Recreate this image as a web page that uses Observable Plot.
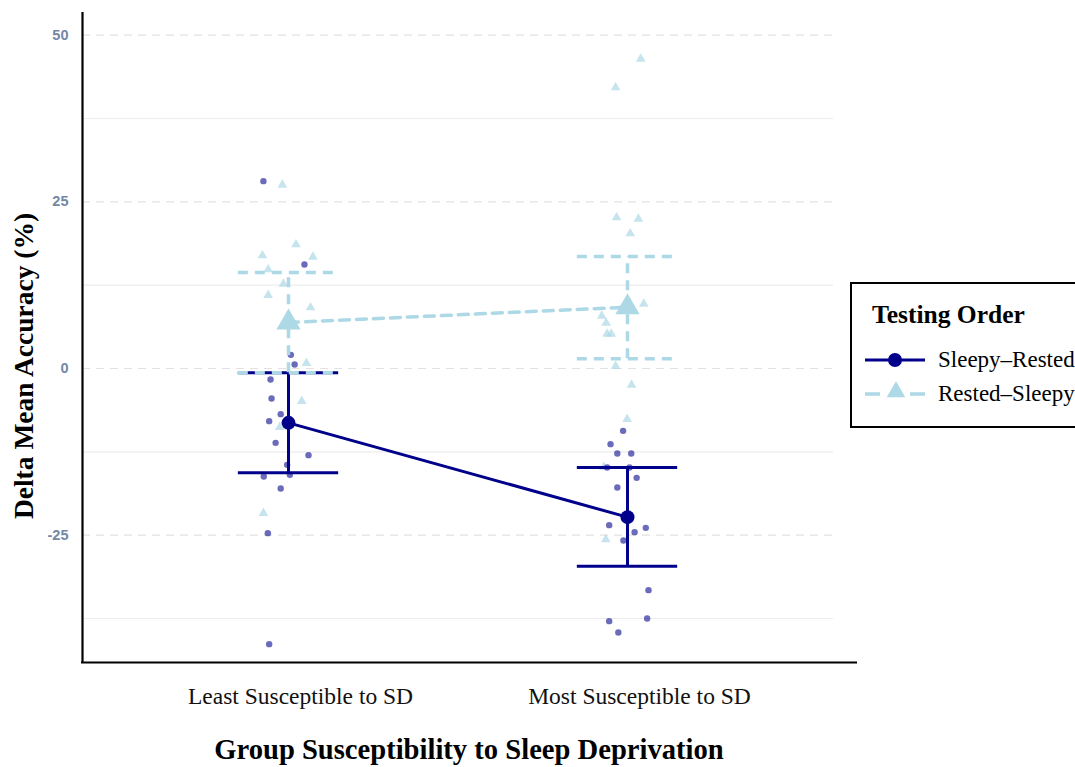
<!DOCTYPE html>
<html>
<head>
<meta charset="utf-8">
<script src="https://cdn.jsdelivr.net/npm/d3@7"></script>
<script src="https://cdn.jsdelivr.net/npm/@observablehq/plot@0.6"></script>
<style>
  html, body { margin: 0; padding: 0; background: #fff; }
  #chart { position: relative; width: 1075px; height: 767px; overflow: hidden; }
</style>
</head>
<body>
<div id="chart"></div>
<script>
// ---------- data ----------
const groups = ["Least Susceptible to SD", "Most Susceptible to SD"];
const orders = ["Sleepy–Rested", "Rested–Sleepy"];
const yTicks = [-25, 0, 25, 50];
const yMinorTicks = [-37.5, -12.5, 12.5, 37.5];

// group means and error-bar ends
const meanSR = [-8.15, -22.3];
const lowSR = [-15.65, -29.65];
const highSR = [-0.65, -14.85];
const meanRS = [6.9, 9.2];
const lowRS = [-0.65, 1.45];
const highRS = [14.4, 16.8];

// individual participants (value, horizontal jitter in group units)
const srLeast = [28.1, 15.6, 2.05, 0.6, -1.65, -4.5, -6.85, -7.9, -11.15, -13.0, -14.45, -16.2, -15.95, -18.0, -24.7, -41.35];
const srLeastJit = [-0.074, 0.047, 0.007, 0.018, -0.053, -0.050, -0.023, -0.057, -0.038, 0.059, -0.004, -0.073, 0.004, -0.023, -0.061, -0.057];
const srMost = [-9.35, -11.35, -12.75, -12.75, -14.85, -14.85, -16.4, -17.85, -23.5, -23.9, -24.55, -25.8, -33.25, -37.9, -37.5, -39.6];
const srMostJit = [-0.013, -0.050, -0.030, 0.011, -0.060, 0.006, 0.027, -0.030, -0.054, 0.054, 0.021, -0.012, 0.062, -0.054, 0.058, -0.027];
const rsLeast = [27.55, 18.6, 16.95, 16.75, 14.85, 12.7, 11.0, 9.15, 0.8, -4.9, -8.8, -21.7];
const rsLeastJit = [-0.018, 0.022, -0.077, 0.072, -0.060, -0.015, -0.060, 0.065, 0.053, 0.039, -0.026, -0.074];
const rsMost = [46.45, 42.15, 22.65, 22.45, 20.25, 9.7, 7.9, 6.85, 5.2, 5.2, 0.35, -2.45, -7.6, -14.8, -25.65];
const rsMostJit = [0.039, -0.035, -0.032, 0.032, 0.008, 0.048, -0.076, -0.063, -0.060, -0.048, -0.035, 0.012, -0.001, -0.070, -0.064];

// ---------- build tables ----------
const pts = (vals, jit, g) => vals.map((v, i) => ({x: g + jit[i], y: v}));
const srPts = [...pts(srLeast, srLeastJit, 0), ...pts(srMost, srMostJit, 1)];
const rsPts = [...pts(rsLeast, rsLeastJit, 0), ...pts(rsMost, rsMostJit, 1)];
const summary = (m, lo, hi) => groups.map((g, i) => ({g: i, mean: m[i], lo: lo[i], hi: hi[i]}));
const srSum = summary(meanSR, lowSR, highSR);
const rsSum = summary(meanRS, lowRS, highRS);

// ---------- style ----------
const DARK = "#00008B";
const LIGHT = "#ADD8E6";
const CAP = 0.148;
const DASH = "10,7";
const xDomain = [-0.6077, 1.6077];
const yDomain = [-44.1, 53.4];

const plot = Plot.plot({
  width: 1075,
  height: 767,
  marginLeft: 82,
  marginRight: 242,
  marginTop: 12,
  marginBottom: 105,
  x: {domain: xDomain},
  y: {domain: yDomain},
  style: {background: "#fff", overflow: "visible"},
  marks: [
    Plot.ruleY(yMinorTicks, {stroke: "#ececec", strokeWidth: 1.2}),
    Plot.ruleY(yTicks, {stroke: "#e2e2e2", strokeWidth: 1.2, strokeDasharray: "8,6"}),
    Plot.axisY({ticks: yTicks, tickFormat: d => String(d), tickSize: 0, tickPadding: 14, fontSize: 14.5, fontWeight: "bold",
      fontFamily: "Liberation Sans, Arial, sans-serif", color: "#7487a6", label: null}),
    Plot.axisX({ticks: [0, 1], tickFormat: i => groups[i], tickSize: 0, tickPadding: 25, dx: 12,
      fontSize: 23.5, fontFamily: "Liberation Serif, Times New Roman, serif", color: "#111", label: null}),
    // individual points
    Plot.dot(rsPts, {x: "x", y: "y", symbol: "triangle", r: 3.6, fill: LIGHT, fillOpacity: 0.7}),
    Plot.dot(srPts, {x: "x", y: "y", r: 3.2, fill: DARK, fillOpacity: 0.58}),
    // Sleepy–Rested summary
    Plot.line(srSum, {x: "g", y: "mean", stroke: DARK, strokeWidth: 3}),
    Plot.ruleX(srSum, {x: "g", y1: "lo", y2: "hi", stroke: DARK, strokeWidth: 3}),
    Plot.ruleY(srSum, {y: "lo", x1: d => d.g - CAP, x2: d => d.g + CAP, stroke: DARK, strokeWidth: 3}),
    Plot.ruleY(srSum, {y: "hi", x1: d => d.g - CAP, x2: d => d.g + CAP, stroke: DARK, strokeWidth: 3}),
    Plot.dot(srSum, {x: "g", y: "mean", r: 7, fill: DARK}),
    // Rested–Sleepy summary
    Plot.line(rsSum, {x: "g", y: "mean", stroke: LIGHT, strokeWidth: 3.5, strokeDasharray: DASH}),
    Plot.ruleX(rsSum, {x: "g", y1: "lo", y2: "hi", stroke: LIGHT, strokeWidth: 3.5, strokeDasharray: DASH}),
    Plot.ruleY(rsSum, {y: "lo", x1: d => d.g - CAP, x2: d => d.g + CAP, stroke: LIGHT, strokeWidth: 3.5, strokeDasharray: DASH}),
    Plot.ruleY(rsSum, {y: "hi", x1: d => d.g - CAP, x2: d => d.g + CAP, stroke: LIGHT, strokeWidth: 3.5, strokeDasharray: DASH}),
    Plot.dot(rsSum, {x: "g", y: "mean", symbol: "triangle", r: 9, fill: LIGHT}),
    // axis lines
    Plot.ruleX([xDomain[0]], {stroke: "#000", strokeWidth: 2.2}),
    Plot.ruleY([yDomain[0]], {stroke: "#000", strokeWidth: 2.2, insetRight: -24, insetLeft: -1})
  ]
});

document.getElementById("chart").appendChild(plot);

// ---------- titles & legend ----------
const svg = d3.select(plot);
const SERIF = "Liberation Serif, Times New Roman, serif";
svg.append("text")
  .attr("transform", "translate(33,366) rotate(-90)")
  .attr("text-anchor", "middle")
  .attr("font-family", SERIF).attr("font-weight", "bold").attr("font-size", 27.5)
  .attr("fill", "#000")
  .text("Delta Mean Accuracy (%)");
svg.append("text")
  .attr("x", 469).attr("y", 759)
  .attr("text-anchor", "middle")
  .attr("font-family", SERIF).attr("font-weight", "bold").attr("font-size", 28.6)
  .attr("fill", "#000")
  .text("Group Susceptibility to Sleep Deprivation");

const lg = svg.append("g").attr("text-anchor", "start");
lg.append("rect").attr("x", 851).attr("y", 283).attr("width", 260).attr("height", 144)
  .attr("fill", "#fff").attr("stroke", "#000").attr("stroke-width", 2);
lg.append("text").attr("x", 872).attr("y", 323).attr("text-anchor", "start")
  .attr("font-family", SERIF).attr("font-weight", "bold").attr("font-size", 25.5).attr("fill", "#000")
  .text("Testing Order");
// Sleepy–Rested key
lg.append("line").attr("x1", 865).attr("x2", 925).attr("y1", 360).attr("y2", 360)
  .attr("stroke", DARK).attr("stroke-width", 3);
lg.append("circle").attr("cx", 895).attr("cy", 360).attr("r", 7).attr("fill", DARK);
lg.append("text").attr("x", 938).attr("y", 367).attr("text-anchor", "start")
  .attr("font-family", SERIF).attr("font-size", 23).attr("fill", "#000").text(orders[0]);
// Rested–Sleepy key
lg.append("line").attr("x1", 865).attr("x2", 925).attr("y1", 394).attr("y2", 394)
  .attr("stroke", LIGHT).attr("stroke-width", 3.5).attr("stroke-dasharray", "15,30");
lg.append("path").attr("transform", "translate(896,392)")
  .attr("d", d3.symbol(d3.symbolTriangle, 150)()).attr("fill", LIGHT);
lg.append("text").attr("x", 938).attr("y", 401).attr("text-anchor", "start")
  .attr("font-family", SERIF).attr("font-size", 23).attr("fill", "#000").text(orders[1]);
</script>
</body>
</html>
